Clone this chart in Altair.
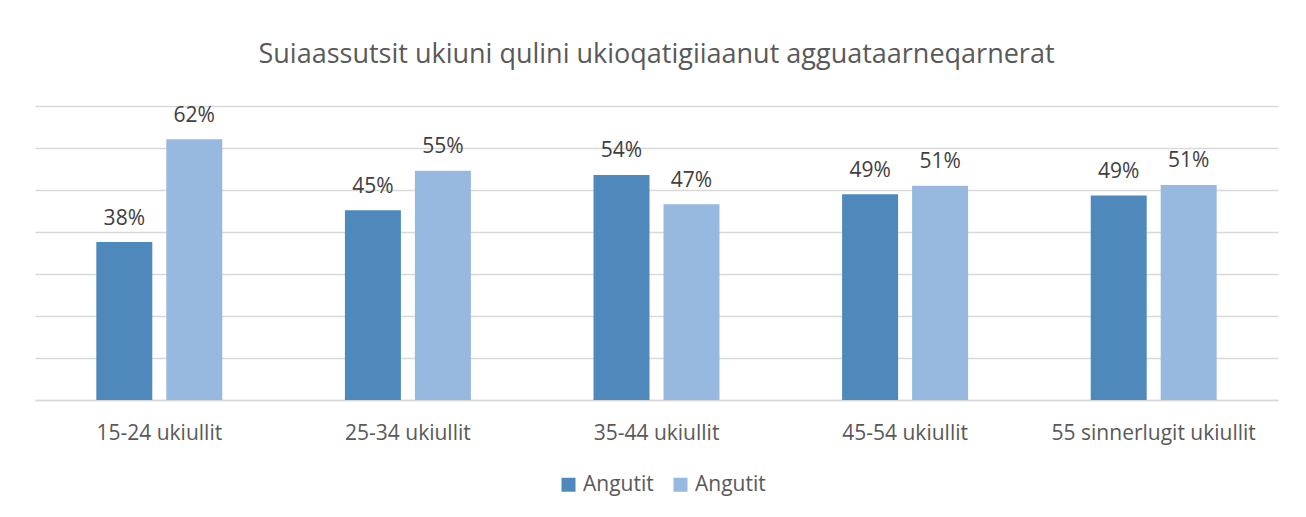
import altair as alt
import pandas as pd

categories = ["15-24 ukiullit", "25-34 ukiullit", "35-44 ukiullit", "45-54 ukiullit", "55 sinnerlugit ukiullit"]
series = ["Angutit", "Angutit "]
values_dark = [0.376, 0.452, 0.536, 0.490, 0.487]
values_light = [0.621, 0.546, 0.466, 0.510, 0.512]
colors = ["#4F89BC", "#97B9E0"]
title_text = "Suiaassutsit ukiuni qulini ukioqatigiiaanut agguataarneqarnerat"

rows = []
for c, v in zip(categories, values_dark):
    rows.append({"cat": c, "ser": series[0], "val": v})
for c, v in zip(categories, values_light):
    rows.append({"cat": c, "ser": series[1], "val": v})
df = pd.DataFrame(rows)

FONT = "Open Sans"

base = alt.Chart(df).encode(
    x=alt.X("cat:N", sort=categories,
            scale=alt.Scale(paddingInner=0.437, paddingOuter=0.2185),
            axis=alt.Axis(title=None, labelAngle=0, ticks=False, labelPadding=22,
                          labelLimit=0,
                          labelFont=FONT, labelFontSize=21, labelColor="#595959",
                          domainColor="#d9d9d9", domainWidth=1.5, grid=False)),
    xOffset=alt.XOffset("ser:N", sort=series,
                        scale=alt.Scale(paddingInner=0.2, paddingOuter=0.1)),
    y=alt.Y("val:Q", scale=alt.Scale(domain=[0, 0.7], nice=False),
            axis=alt.Axis(title=None, labels=False, ticks=False, domain=False,
                          values=[0, 0.1, 0.2, 0.3, 0.4, 0.5, 0.6, 0.7],
                          gridColor="#d9d9d9", gridWidth=1.3)),
)

bars = base.mark_bar().encode(
    color=alt.Color("ser:N", sort=series,
                    scale=alt.Scale(domain=series, range=colors),
                    legend=alt.Legend(title=None, orient="none", direction="horizontal",
                                      legendX=523, legendY=368,
                                      symbolType="square", symbolSize=196,
                                      symbolStrokeWidth=0, labelOffset=4,
                                      columnPadding=16, padding=0,
                                      labelFont=FONT, labelFontSize=21,
                                      labelColor="#595959",
                                      labelExpr="trim(datum.label)")),
)

labels = base.mark_text(baseline="alphabetic", dy=-17.5, font=FONT, fontSize=21,
                        color="#404040").encode(
    text=alt.Text("val:Q", format=".0%"),
)

chart = alt.layer(bars, labels).properties(
    width=1243, height=294,
    background="white",
    autosize=alt.AutoSizeParams(type="none"),
    padding={"left": 27, "top": 98, "right": 20, "bottom": 109},
    title=alt.TitleParams(title_text, font=FONT, fontSize=27, fontWeight="normal",
                          color="#595959", anchor="middle", baseline="alphabetic",
                          offset=15),
).configure_view(stroke=None)

chart.save("out.html", embed_options={"renderer": "svg", "actions": False})
